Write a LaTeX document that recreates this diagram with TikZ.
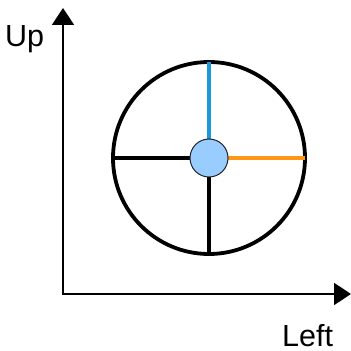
\documentclass[tikz,border=0pt]{standalone}
\usepackage{fontspec}
\setmainfont{Liberation Sans}
\usetikzlibrary{positioning, arrows.meta}
\definecolor{hubfill}{HTML}{99CCFF}
\definecolor{hubline}{HTML}{222222}
\definecolor{spokeblue}{HTML}{1A98D8}
\definecolor{spokeorange}{HTML}{FF9616}

\begin{document}
\begin{tikzpicture}[x=1pt, y=1pt, font=\fontsize{30.5}{34}\selectfont,
    axis/.style={line width=1.8pt, {Triangle[length=17pt, width=22pt]}-{Triangle[length=17pt, width=22pt]}},
    rim/.style={circle, draw, line width=3.8pt, minimum size=192pt, inner sep=0pt, outer sep=0pt},
    hubnode/.style={circle, draw=hubline, line width=1pt, fill=hubfill, minimum size=38pt,
                    inner sep=0pt, outer sep=0pt},
    spoke/.style={line width=3.8pt},
    lab/.style={anchor=base west, inner sep=0pt}]
    \useasboundingbox (0,0) rectangle (351,351);
    % axes
    \coordinate (origin) at (63,57);
    \coordinate (uptip) at (63,343);
    \coordinate (lefttip) at (351,57);
    \draw[axis] (uptip) -- (origin) -- (lefttip);
    \node[lab] (uplab) at (5,304) {Up};
    \node[lab] (leftlab) at (282,4.5) {Left};
    % wheel
    \node[rim] (wheel) at (209,193) {};
    \draw[spoke, spokeblue] (209,193) -- (wheel.north);
    \draw[spoke, spokeorange] (209,193) -- (wheel.east);
    \draw[spoke] (209,193) -- (wheel.west);
    \draw[spoke] (209,193) -- (wheel.south);
    \node[hubnode] (hub) at (wheel.center) {};
  \end{tikzpicture}
\end{document}
